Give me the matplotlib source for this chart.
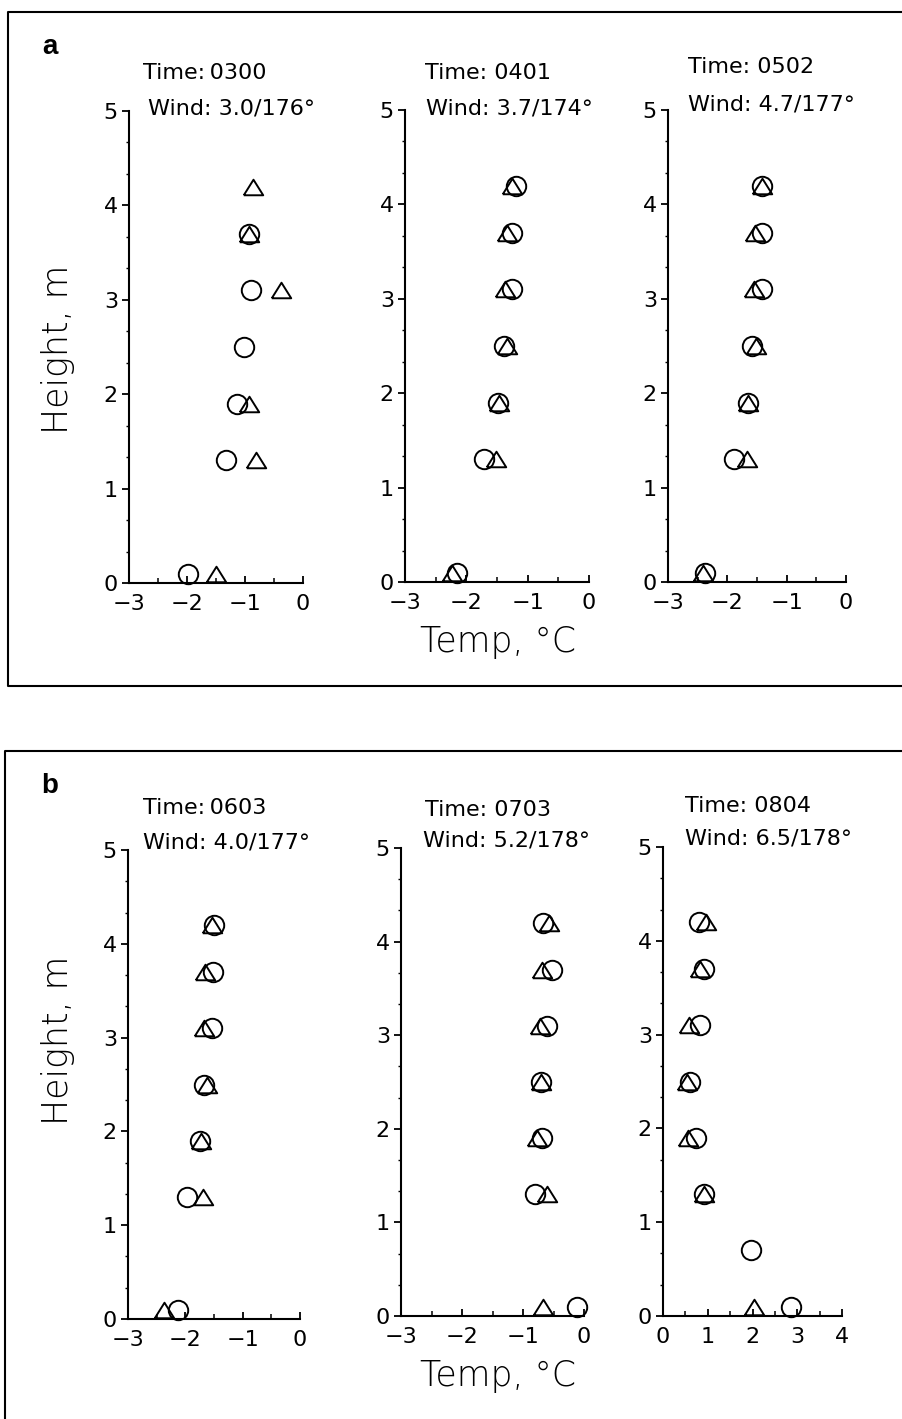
import numpy as np
import matplotlib
matplotlib.use("Agg")
from matplotlib import pyplot as plt
from matplotlib.lines import Line2D
from matplotlib.ticker import MultipleLocator

nan = np.nan

# measurement heights (m)
heights = [0.1, 1.3, 1.9, 2.5, 3.1, 3.7, 4.2]
heights_0804 = [0.1, 0.7, 1.3, 1.9, 2.5, 3.1, 3.7, 4.2]

# temperatures (deg C): circles and triangles for each run
t0300_circ = [-1.98, -1.33, -1.14, -1.02, -0.90, -0.93, nan]
t0300_tri = [-1.50, -0.81, -0.93, nan, -0.38, -0.93, -0.87]
t0401_circ = [-2.15, -1.71, -1.48, -1.39, -1.26, -1.25, -1.19]
t0401_tri = [-2.24, -1.51, -1.47, -1.33, -1.37, -1.33, -1.26]
t0502_circ = [-2.38, -1.89, -1.66, -1.59, -1.41, -1.42, -1.41]
t0502_tri = [-2.41, -1.67, -1.66, -1.52, -1.55, -1.53, -1.41]
t0603_circ = [-2.13, -1.97, -1.75, -1.68, -1.54, -1.52, -1.50]
t0603_tri = [-2.38, -1.70, -1.72, -1.62, -1.68, -1.66, -1.54]
t0703_circ = [-0.11, -0.81, -0.69, -0.71, -0.61, -0.53, -0.67]
t0703_tri = [-0.68, -0.61, -0.77, -0.71, -0.72, -0.69, -0.58]
t0804_circ = [2.86, 1.97, 0.92, 0.73, 0.60, 0.82, 0.92, 0.80]
t0804_tri = [2.04, nan, 0.92, 0.56, 0.54, 0.58, 0.82, 0.96]

times = ["Time:\u20090300", "Time: 0401", "Time: 0502",
         "Time:\u20090603", "Time: 0703", "Time: 0804"]
winds = ["Wind: 3.0/176°", "Wind: 3.7/174°", "Wind: 4.7/177°",
         "Wind: 4.0/177°", "Wind: 5.2/178°", "Wind: 6.5/178°"]

W, H = 902, 1419
fig = plt.figure(figsize=(W / 100, H / 100), dpi=100)


def px_rect(l, r, t, b):
    return [l / W, 1 - b / H, (r - l) / W, (b - t) / H]


def fig_text(x, y, s, **kw):
    fig.text(x / W, 1 - y / H, s, **kw)


tri = [(-1, -0.8), (1, -0.8), (0, 0.8), (-1, -0.8)]

panels = [
    # rect, x limits, heights, circles, triangles, time x, wind x, time y, wind y
    ((129, 303, 111, 583), (-3, 0), heights, t0300_circ, t0300_tri, 143, 148, 73, 108),
    ((405, 589, 110, 582), (-3, 0), heights, t0401_circ, t0401_tri, 425, 426, 73, 108),
    ((668, 846, 110, 582), (-3, 0), heights, t0502_circ, t0502_tri, 688, 688, 67, 104),
    ((128, 300, 850, 1319), (-3, 0), heights, t0603_circ, t0603_tri, 143, 143, 808, 843),
    ((401, 584, 848, 1316), (-3, 0), heights, t0703_circ, t0703_tri, 425, 423, 810, 841),
    ((663, 842, 847, 1316), (0, 4), heights_0804, t0804_circ, t0804_tri, 685, 685, 806, 839),
]

for i, (rect, xl, hts, circ, trg, tx, wx, ty, wy) in enumerate(panels):
    ax = fig.add_axes(px_rect(*rect))
    ax.plot(circ, hts, linestyle="none", marker="o", ms=14, mfc="none",
            mec="black", mew=1.4, clip_on=False)
    ax.plot(trg, hts, linestyle="none", marker=tri, ms=14, mfc="none",
            mec="black", mew=1.4, clip_on=False)
    ax.set_xlim(*xl)
    ax.set_ylim(0, 5)
    ax.xaxis.set_major_locator(MultipleLocator(1))
    ax.xaxis.set_minor_locator(MultipleLocator(0.5))
    ax.yaxis.set_major_locator(MultipleLocator(1))
    ax.yaxis.set_minor_locator(MultipleLocator(1 / 3))
    for s in ["top", "right"]:
        ax.spines[s].set_visible(False)
    for s in ["left", "bottom"]:
        ax.spines[s].set_linewidth(1.5)
    ax.tick_params(axis="x", which="major", direction="in", length=5, width=1.3,
                   pad=8, labelsize=16)
    ax.tick_params(axis="x", which="minor", direction="in", length=3.5, width=1.1)
    ax.tick_params(axis="y", which="major", direction="out", length=5, width=1.3,
                   pad=3, labelsize=16)
    ax.tick_params(axis="y", which="minor", direction="out", length=2.5, width=1.0)
    fig_text(tx, ty, times[i], fontsize=16, ha="left", va="center")
    fig_text(wx, wy, winds[i], fontsize=16, ha="left", va="center")

# axis titles
lbl = dict(fontsize=25, fontweight="light", ha="center", va="center")
fig_text(58, 349, "Height, m", rotation=90, **lbl)
fig_text(58, 1040, "Height, m", rotation=90, **lbl)
fig_text(498, 642, "Temp, °C", **lbl)
fig_text(498, 1376, "Temp, °C", **lbl)

# panel letters
fig_text(50, 47, "a", fontsize=20, fontweight="bold", family="Liberation Sans",
         ha="center", va="center")
fig_text(50, 786, "b", fontsize=20, fontweight="bold", family="Liberation Sans",
         ha="center", va="center")

# panel frames
fig.add_artist(Line2D([(W + 10) / W, 8 / W, 8 / W, (W + 10) / W],
                      [1 - 12 / H, 1 - 12 / H, 1 - 686 / H, 1 - 686 / H],
                      transform=fig.transFigure, color="black", lw=1.5))
fig.add_artist(Line2D([(W + 10) / W, 5 / W, 5 / W],
                      [1 - 751 / H, 1 - 751 / H, 1 - (H + 10) / H],
                      transform=fig.transFigure, color="black", lw=1.5))

fig.savefig("out.png", dpi=100)
